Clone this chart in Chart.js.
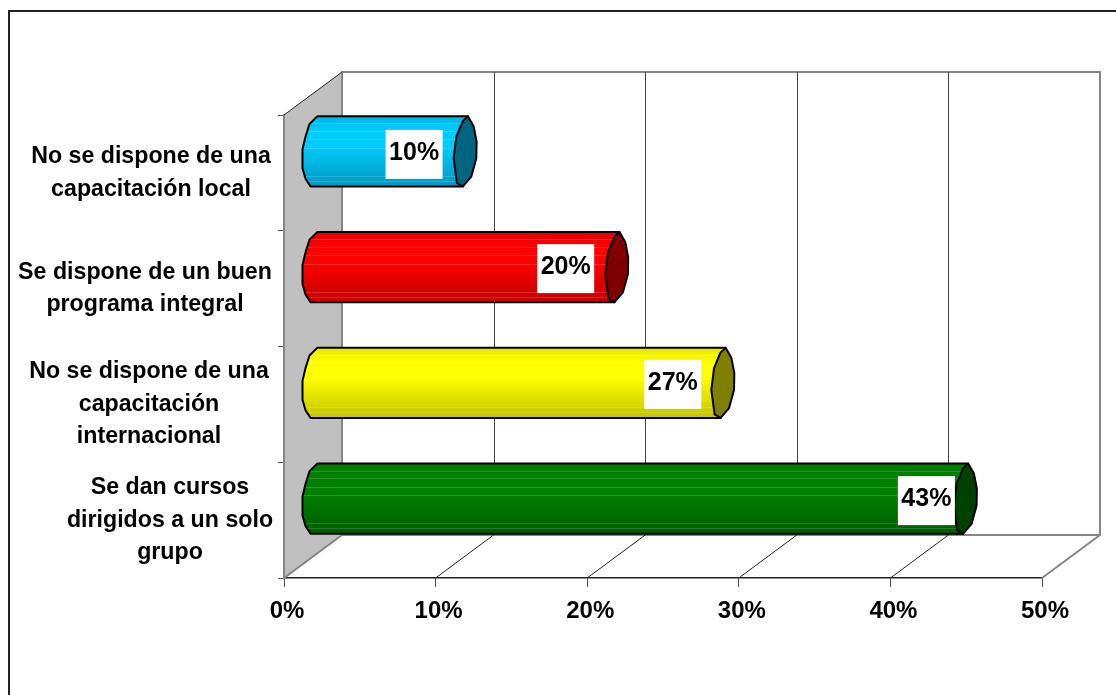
<!DOCTYPE html>
<html>
<head>
<meta charset="utf-8">
<style>
  html, body { margin: 0; padding: 0; background: #fff; }
  #wrap { width: 1116px; height: 695px; position: relative; overflow: hidden; }
  /* the frame is only visible on top and left in the original */
  #frame { position: absolute; left: 7.5px; top: 10px; width: 1110px; height: 700px; border-top: 2px solid #222; border-left: 2px solid #222; }
</style>
<script src="https://cdn.jsdelivr.net/npm/chart.js@4"></script>
</head>
<body>
<div id="wrap">
  <div id="frame"></div>
  <canvas id="chart" width="1116" height="695" style="position:absolute;left:0;top:0"></canvas>
</div>
<script>
const categories = [
  ['No se dispone de una', 'capacitación local'],
  ['Se dispone de un buen', 'programa integral'],
  ['No se dispone de una', 'capacitación', 'internacional'],
  ['Se dan cursos', 'dirigidos a un solo', 'grupo']
];
const values = [10, 20, 27, 43];
const valueLabels = ['10%', '20%', '27%', '43%'];
const xTicks = [0, 10, 20, 30, 40, 50];

// colours of each cylinder: top, bright, bottom, end cap
const barColors = [
  ['#00b4de', '#00ccff', '#0099bf', '#006680'],
  ['#e00000', '#ff0000', '#c40000', '#800000'],
  ['#e6e600', '#ffff00', '#c4c400', '#808000'],
  ['#007a00', '#008000', '#005c00', '#004000']
];
// centre x of each wrapped category label
const labelCenters = [151, 145, 149, 170];
// nudges of the value boxes, they don't sit the same on every bar
const boxShiftX = [0, 0, 1, 12];
const boxShiftY = [3, 1.5, 1.5, 2];

// chunky outlines of the cylinder ends: [dx from bar end, fraction of bar height]
const capOutline = [[3.3, 0], [9, 0.14], [12, 0.36], [11.7, 0.6], [6.7, 0.86], [-1.7, 1], [-7.7, 0.95], [-11, 0.6], [-8.3, 0.29], [-2, 0.07]];
const baseOutline = [[3.7, 0], [-4, 0.11], [-8, 0.29], [-11, 0.47], [-11, 0.74], [-8, 0.89], [-3, 1]];

const FONT = 'Arial, "Liberation Sans", sans-serif';
const DEPTH_X = 58, DEPTH_Y = -43;

function bandGradient(ctx, top, bottom, c) {
  const g = ctx.createLinearGradient(0, top, 0, bottom);
  g.addColorStop(0, c[0]);
  g.addColorStop(0.2, c[1]);
  g.addColorStop(0.42, c[1]);
  g.addColorStop(1, c[2]);
  return g;
}

const box3d = {
  id: 'box3d',
  beforeDatasetsDraw(chart) {
    const { ctx, chartArea: a, scales: { x } } = chart;
    ctx.save();
    // left wall
    ctx.fillStyle = '#c0c0c0';
    ctx.beginPath();
    ctx.moveTo(a.left, a.top);
    ctx.lineTo(a.left + DEPTH_X, a.top + DEPTH_Y);
    ctx.lineTo(a.left + DEPTH_X, a.bottom + DEPTH_Y);
    ctx.lineTo(a.left, a.bottom);
    ctx.closePath();
    ctx.fill();

    // outline of the box in grey
    ctx.strokeStyle = '#868686';
    ctx.lineWidth = 2;
    ctx.beginPath();
    ctx.moveTo(a.left + DEPTH_X, a.bottom + DEPTH_Y);
    ctx.lineTo(a.left + DEPTH_X, a.top + DEPTH_Y);
    ctx.lineTo(a.right + DEPTH_X, a.top + DEPTH_Y);
    ctx.lineTo(a.right + DEPTH_X, a.bottom + DEPTH_Y);
    ctx.lineTo(a.left + DEPTH_X, a.bottom + DEPTH_Y);
    ctx.stroke();
    ctx.beginPath();
    ctx.moveTo(a.left, a.top);
    ctx.lineTo(a.left, a.bottom);
    ctx.lineTo(a.left + DEPTH_X, a.bottom + DEPTH_Y);
    ctx.moveTo(a.right, a.bottom);
    ctx.lineTo(a.right + DEPTH_X, a.bottom + DEPTH_Y);
    ctx.stroke();

    ctx.strokeStyle = '#222';
    ctx.lineWidth = 1;
    ctx.beginPath();
    ctx.moveTo(a.left, a.top);
    ctx.lineTo(a.left + DEPTH_X, a.top + DEPTH_Y);
    ctx.stroke();

    // grid on the floor and back wall
    xTicks.slice(1, -1).forEach(t => {
      const px = x.getPixelForValue(t);
      ctx.strokeStyle = '#222';
      ctx.lineWidth = 1;
      ctx.beginPath();
      ctx.moveTo(px, a.bottom);
      ctx.lineTo(px + DEPTH_X, a.bottom + DEPTH_Y);
      ctx.stroke();
      ctx.strokeStyle = '#444';
      ctx.beginPath();
      ctx.moveTo(Math.round(px + DEPTH_X) + 0.5, a.bottom + DEPTH_Y);
      ctx.lineTo(Math.round(px + DEPTH_X) + 0.5, a.top + DEPTH_Y);
      ctx.stroke();
    });
    ctx.restore();
  },
  beforeDatasetDraw() {
    return false; // cylinders are painted below from the bar elements
  },
  afterDatasetsDraw(chart) {
    const ctx = chart.ctx;
    chart.getDatasetMeta(0).data.forEach((bar, i) => {
      const c = barColors[i];
      const top = bar.y - bar.height / 2 + DEPTH_Y / 2;
      const bottom = bar.y + bar.height / 2 + DEPTH_Y / 2;
      const h = bottom - top;
      const x0 = bar.base + DEPTH_X / 2;
      const x1 = bar.x + DEPTH_X / 2;
      ctx.save();
      ctx.lineJoin = 'round';

      // body with its rounded left end
      const body = new Path2D();
      body.moveTo(x1 + 3.3, top);
      body.lineTo(x1 - 1.7, bottom);
      baseOutline.slice().reverse().forEach(p => body.lineTo(x0 + p[0], top + p[1] * h));
      body.closePath();
      ctx.fillStyle = bandGradient(ctx, top, bottom, c);
      ctx.fill(body);

      // thin light stripes along the body
      ctx.save();
      ctx.clip(body);
      ctx.strokeStyle = 'rgba(255,255,255,0.16)';
      ctx.lineWidth = 1;
      [0.1, 0.21, 0.33, 0.45, 0.85, 0.92].forEach(f => {
        const sy = Math.round(top + f * h) + 0.5;
        ctx.beginPath();
        ctx.moveTo(x0 - 12, sy);
        ctx.lineTo(x1 + 4, sy);
        ctx.stroke();
      });
      ctx.restore();
      ctx.strokeStyle = '#000';
      ctx.lineWidth = 2;
      ctx.stroke(body);

      // end cap
      const cap = new Path2D();
      capOutline.forEach(p => cap.lineTo(x1 + p[0], top + p[1] * h));
      cap.closePath();
      ctx.fillStyle = c[3];
      ctx.fill(cap);
      ctx.stroke(cap);

      // value label on its white box
      const lx = x1 - 50.5 + boxShiftX[i];
      const ly = (top + bottom) / 2 + boxShiftY[i];
      ctx.fillStyle = '#fff';
      ctx.fillRect(lx - 28.5, ly - 24.5, 57, 49);
      ctx.fillStyle = '#000';
      ctx.font = 'bold 25px ' + FONT;
      ctx.textAlign = 'center';
      ctx.textBaseline = 'middle';
      ctx.fillText(valueLabels[i], lx, ly - 1.5);
      ctx.restore();
    });
  },
  afterDraw(chart) {
    // wrapped category labels, each block centred on its own x
    const { ctx, scales: { y } } = chart;
    ctx.save();
    ctx.fillStyle = '#000';
    ctx.font = 'bold 23.2px ' + FONT;
    ctx.textAlign = 'center';
    ctx.textBaseline = 'middle';
    categories.forEach((lines, i) => {
      const cy = y.getPixelForTick(i);
      lines.forEach((line, j) => {
        ctx.fillText(line, labelCenters[i], cy + (j - (lines.length - 1) / 2) * 32.5);
      });
    });
    ctx.restore();
  }
};

new Chart(document.getElementById('chart'), {
  type: 'bar',
  data: {
    labels: categories,
    datasets: [{
      data: values,
      backgroundColor: barColors.map(c => c[1]),
      barPercentage: 0.605,
      categoryPercentage: 1
    }]
  },
  options: {
    indexAxis: 'y',
    responsive: false,
    animation: false,
    events: [],
    layout: { padding: { top: 115, right: 74, left: 0, bottom: 0 } },
    plugins: { legend: { display: false }, tooltip: { enabled: false }, title: { display: false } },
    scales: {
      x: {
        min: 0,
        max: 50,
        afterFit(s) { s.height = 117; },
        afterBuildTicks(s) { s.ticks = xTicks.map(v => ({ value: v })); },
        border: { color: '#222', width: 1.5 },
        grid: { drawOnChartArea: false, tickColor: '#555', tickLength: 9, tickWidth: 1 },
        ticks: {
          color: '#000',
          padding: 10,
          maxRotation: 0,
          labelOffset: 3,
          font: { family: FONT, size: 24, weight: 'bold' },
          callback: v => v + '%'
        }
      },
      y: {
        afterFit(s) { s.width = 284; },
        border: { color: '#868686', width: 1.5 },
        grid: { drawOnChartArea: false, tickColor: '#555', tickLength: 6, tickWidth: 1 },
        ticks: { display: false }
      }
    }
  },
  plugins: [box3d]
});
</script>
</body>
</html>
